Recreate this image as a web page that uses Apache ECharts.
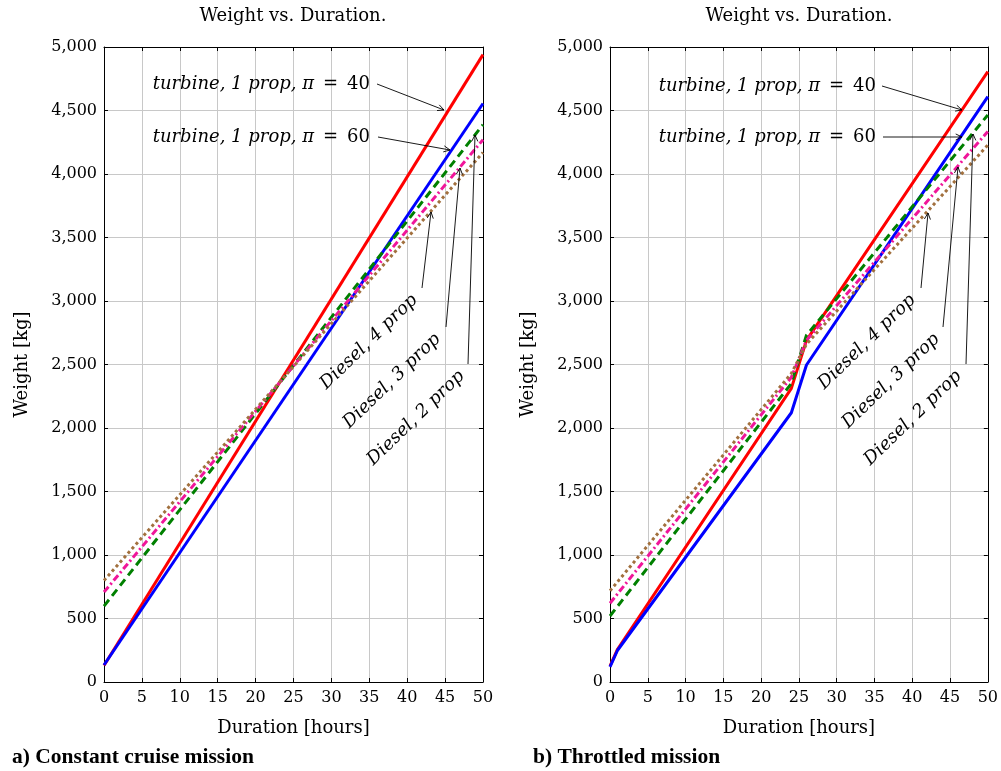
<!DOCTYPE html>
<html><head><meta charset="utf-8">
<script src="https://cdn.jsdelivr.net/npm/echarts@6/dist/echarts.min.js"></script>
<style>html,body{margin:0;padding:0;background:#fff}#c{width:1001px;height:771px}</style>
</head><body><div id="c"></div>
<script>
// ---------- data ----------
const xTickStep = 5;
const yTickStep = 500;
const titles = ['Weight vs. Duration.', 'Weight vs. Duration.'];
const captions = ['a) Constant cruise mission', 'b) Throttled mission'];
const seriesNames = ['turbine, 1 prop, π = 40', 'turbine, 1 prop, π = 60', 'Diesel, 4 prop', 'Diesel, 3 prop', 'Diesel, 2 prop'];

// a) constant cruise
const leftX = [0, 50];
const leftRed = [130, 4940];
const leftBlue = [134, 4555];
const leftGreen = [598, 4388];
const leftMagenta = [708, 4270];
const leftBrown = [800, 4170];

// b) throttled
const rightTurbineX = [0, 1, 24, 26, 50];
const rightRed = [125, 258, 2312, 2690, 4806];
const rightBlue = [120, 250, 2120, 2496, 4609];
const rightDieselX = [0, 24, 26, 50];
const rightGreen = [520, 2350, 2730, 4465];
const rightMagenta = [620, 2400, 2690, 4335];
const rightBrown = [718, 2430, 2660, 4228];

// ---------- build ----------
const SERIF = '"DejaVu Serif", serif';
const TIMES = '"Liberation Serif", "Times New Roman", serif';
const FS = 16;   // tick labels
const FT = 18;   // other text
const pair = (xs, ys) => xs.map((x, i) => [x, ys[i]]);

const styles = [
  {color: '#ff0000', type: 'solid'},
  {color: '#0000ff', type: 'solid'},
  {color: '#008000', type: [8, 5]},
  {color: '#f0169a', type: [7, 3, 2, 3]},
  {color: '#a2703e', type: [3, 3]}
];

const grids = [
  {left: 104, top: 47, width: 379, height: 635},
  {left: 610, top: 47, width: 378, height: 635}
];

function mainX(g) {
  return {type: 'value', gridIndex: g, min: 0, max: 50, interval: xTickStep, position: 'bottom',
    name: 'Duration [hours]', nameLocation: 'middle', nameGap: 37,
    nameTextStyle: {fontFamily: SERIF, fontSize: FT, color: '#000'},
    axisLine: {show: true, onZero: false, lineStyle: {color: '#000', width: 1}},
    axisTick: {show: true, inside: true, length: 4, lineStyle: {color: '#000'}},
    axisLabel: {fontFamily: SERIF, fontSize: FS, color: '#000', margin: 8},
    splitLine: {show: true, lineStyle: {color: '#c8c8c8', width: 1}}};
}
function topX(g) {
  return {type: 'value', gridIndex: g, min: 0, max: 50, interval: xTickStep, position: 'top',
    axisLine: {show: true, onZero: false, lineStyle: {color: '#000', width: 1}},
    axisTick: {show: true, inside: true, length: 4, lineStyle: {color: '#000'}},
    axisLabel: {show: false}, splitLine: {show: false}};
}
function mainY(g) {
  return {type: 'value', gridIndex: g, min: 0, max: 5000, interval: yTickStep, position: 'left',
    name: 'Weight [kg]', nameLocation: 'middle', nameGap: 73, nameRotate: 90,
    nameTextStyle: {fontFamily: SERIF, fontSize: FT, color: '#000'},
    axisLine: {show: true, onZero: false, lineStyle: {color: '#000', width: 1}},
    axisTick: {show: true, inside: true, length: 4, lineStyle: {color: '#000'}},
    axisLabel: {fontFamily: SERIF, fontSize: FS, color: '#000', margin: 7,
      formatter: v => v.toLocaleString('en-US')},
    splitLine: {show: true, lineStyle: {color: '#c8c8c8', width: 1}}};
}
function rightY(g) {
  return {type: 'value', gridIndex: g, min: 0, max: 5000, interval: yTickStep, position: 'right',
    axisLine: {show: true, onZero: false, lineStyle: {color: '#000', width: 1}},
    axisTick: {show: true, inside: true, length: 4, lineStyle: {color: '#000'}},
    axisLabel: {show: false}, splitLine: {show: false}};
}

function line(name, data, axisIdx, k) {
  return {type: 'line', name, data, xAxisIndex: axisIdx, yAxisIndex: axisIdx,
    symbol: 'none', smooth: false, animation: false, z: 3 + k,
    lineStyle: {color: styles[k].color, width: 3, type: styles[k].type, cap: 'butt'}};
}

const series = [
  line(seriesNames[0], pair(leftX, leftRed), 0, 0),
  line(seriesNames[1], pair(leftX, leftBlue), 0, 1),
  line(seriesNames[2], pair(leftX, leftGreen), 0, 2),
  line(seriesNames[3], pair(leftX, leftMagenta), 0, 3),
  line(seriesNames[4], pair(leftX, leftBrown), 0, 4),
  line(seriesNames[0], pair(rightTurbineX, rightRed), 1, 0),
  line(seriesNames[1], pair(rightTurbineX, rightBlue), 1, 1),
  line(seriesNames[2], pair(rightDieselX, rightGreen), 1, 2),
  line(seriesNames[3], pair(rightDieselX, rightMagenta), 1, 3),
  line(seriesNames[4], pair(rightDieselX, rightBrown), 1, 4)
];

// annotation layout (pixels)
const panels = [
  {cx: 293, capX: 12,
   t1: [370, 84], t2: [370, 137],
   arrows: [[377, 84, 444, 110], [378, 137, 450, 150], [422, 288, 431, 212], [446, 327, 460, 168], [468, 364, 475, 135]],
   rot: [[369, 342], [392, 381], [416, 418]]},
  {cx: 799, capX: 533,
   t1: [876, 86], t2: [876, 137],
   arrows: [[882, 86, 962, 110], [883, 137, 962, 137], [921, 288, 928, 213], [943, 327, 958, 167], [966, 364, 973, 134]],
   rot: [[867, 342], [891, 381], [913, 418]]}
];

const graphic = [];
panels.forEach((p, i) => {
  graphic.push({type: 'text', x: p.cx, y: 16, style: {text: titles[i], font: FT + 'px ' + SERIF, fill: '#000', textAlign: 'center', textVerticalAlign: 'middle'}});
  graphic.push({type: 'text', x: p.capX, y: 757, style: {text: captions[i], font: 'bold 21.5px ' + TIMES, fill: '#000', textAlign: 'left', textVerticalAlign: 'middle'}});
  [p.t1, p.t2].forEach((t, j) => {
    const parts = seriesNames[j].split('π');
    graphic.push({type: 'text', x: t[0], y: t[1], z: 20, style: {
      text: '{i|' + parts[0] + 'π}{u|' + parts[1].replace(/ /g, '\u2002') + '}',
      textAlign: 'right', textVerticalAlign: 'middle',
      rich: {i: {font: 'italic ' + FT + 'px ' + SERIF, fill: '#000'}, u: {font: FT + 'px ' + SERIF, fill: '#000'}}}});
  });
  p.rot.forEach((c, j) => {
    graphic.push({type: 'text', x: c[0], y: c[1], rotation: 44 * Math.PI / 180, z: 20,
      style: {text: seriesNames[2 + j], font: 'italic ' + FT + 'px ' + SERIF, fill: '#000', textAlign: 'center', textVerticalAlign: 'middle'}});
  });
  p.arrows.forEach(a => {
    const [x1, y1, x2, y2] = a;
    graphic.push({type: 'line', z: 20, shape: {x1, y1, x2, y2}, style: {stroke: '#000', lineWidth: 0.9}});
    const ang = Math.atan2(y2 - y1, x2 - x1);
    const L = 7, w = 0.45;
    graphic.push({type: 'polyline', z: 20, shape: {points: [
      [x2 - L * Math.cos(ang - w), y2 - L * Math.sin(ang - w)], [x2, y2],
      [x2 - L * Math.cos(ang + w), y2 - L * Math.sin(ang + w)]]},
      style: {stroke: '#000', lineWidth: 0.9, fill: null}});
  });
});

const chart = echarts.init(document.getElementById('c'), null, {renderer: 'canvas'});
chart.setOption({
  backgroundColor: '#fff',
  animation: false,
  grid: grids,
  xAxis: [mainX(0), mainX(1), topX(0), topX(1)],
  yAxis: [mainY(0), mainY(1), rightY(0), rightY(1)],
  series,
  graphic
});
</script></body></html>
